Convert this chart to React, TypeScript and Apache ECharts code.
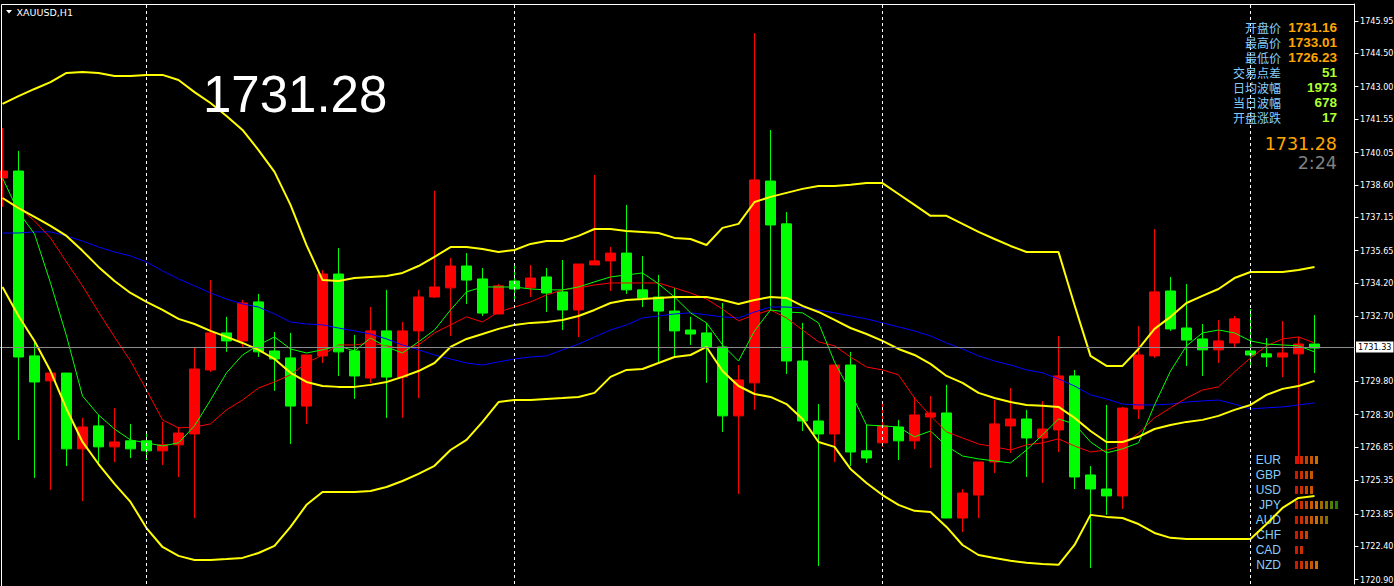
import React, { useEffect, useRef } from "react";
import * as echarts from "echarts";

// ---- data (XAUUSD, H1) ----
// [open, close, low, high]
const candles: number[][] = [
  [1738.91, 1739.22, 1737.61, 1741.15],
  [1739.22, 1730.88, 1727.16, 1740.12],
  [1730.93, 1729.76, 1725.46, 1731.6],
  [1729.81, 1730.16, 1724.92, 1730.16],
  [1730.16, 1726.76, 1725.99, 1730.16],
  [1726.76, 1727.74, 1724.42, 1728.15],
  [1727.79, 1726.85, 1726.13, 1728.28],
  [1726.85, 1727.07, 1726.17, 1728.59],
  [1727.12, 1726.76, 1726.35, 1727.88],
  [1727.12, 1726.67, 1726.26, 1727.56],
  [1726.67, 1726.94, 1726.04, 1727.97],
  [1726.94, 1727.47, 1725.5, 1727.74],
  [1727.43, 1730.34, 1723.66, 1731.29],
  [1730.3, 1731.96, 1730.21, 1734.33],
  [1731.96, 1731.6, 1731.11, 1732.68],
  [1731.6, 1733.3, 1731.33, 1733.44],
  [1733.35, 1731.11, 1730.88, 1733.71],
  [1731.15, 1730.79, 1729.36, 1732.0],
  [1730.84, 1728.68, 1726.98, 1731.96],
  [1728.68, 1730.97, 1727.88, 1730.97],
  [1730.93, 1734.6, 1730.61, 1734.78],
  [1734.6, 1731.11, 1730.03, 1735.77],
  [1731.15, 1730.03, 1729.0, 1731.87],
  [1729.94, 1732.05, 1729.72, 1733.12],
  [1732.05, 1729.98, 1728.15, 1733.89],
  [1729.98, 1732.05, 1728.15, 1732.45],
  [1732.05, 1733.57, 1729.04, 1733.89],
  [1733.57, 1734.02, 1733.53, 1738.33],
  [1733.98, 1734.96, 1731.82, 1735.32],
  [1734.96, 1734.33, 1733.26, 1735.54],
  [1734.38, 1732.85, 1732.72, 1734.87],
  [1732.81, 1734.07, 1732.81, 1734.15],
  [1734.29, 1733.93, 1733.35, 1734.96],
  [1733.98, 1734.42, 1733.57, 1735.01],
  [1734.47, 1733.75, 1732.9, 1734.87],
  [1733.8, 1732.99, 1732.09, 1735.23],
  [1732.99, 1735.05, 1731.78, 1735.05],
  [1735.01, 1735.19, 1735.01, 1739.04],
  [1735.19, 1735.54, 1733.84, 1735.81],
  [1735.54, 1733.89, 1733.71, 1737.7],
  [1733.89, 1733.53, 1733.12, 1735.41],
  [1733.57, 1732.94, 1730.61, 1734.56],
  [1732.94, 1732.05, 1730.88, 1733.98],
  [1732.09, 1731.91, 1731.42, 1732.68],
  [1731.96, 1731.33, 1729.72, 1732.41],
  [1731.33, 1728.24, 1727.52, 1733.3],
  [1728.24, 1729.85, 1724.74, 1730.52],
  [1729.72, 1738.82, 1728.51, 1745.41],
  [1738.77, 1736.8, 1732.94, 1741.06],
  [1736.85, 1730.7, 1730.12, 1737.38],
  [1730.7, 1728.01, 1727.56, 1732.41],
  [1728.01, 1727.43, 1721.51, 1728.77],
  [1727.43, 1730.52, 1726.17, 1730.52],
  [1730.52, 1726.62, 1725.99, 1731.11],
  [1726.67, 1726.35, 1726.13, 1727.83],
  [1727.03, 1727.79, 1726.85, 1728.91],
  [1727.74, 1727.12, 1726.26, 1728.06],
  [1727.12, 1728.28, 1726.76, 1729.09],
  [1728.19, 1728.37, 1725.9, 1729.13],
  [1728.37, 1723.66, 1723.66, 1729.63],
  [1723.66, 1724.78, 1723.03, 1724.96],
  [1724.69, 1726.17, 1723.66, 1726.17],
  [1726.17, 1727.88, 1725.68, 1728.95],
  [1727.79, 1728.1, 1726.58, 1729.49],
  [1728.1, 1727.25, 1725.5, 1728.51],
  [1727.25, 1727.65, 1725.23, 1728.91],
  [1727.61, 1730.03, 1726.62, 1731.82],
  [1730.03, 1725.5, 1724.96, 1730.3],
  [1725.59, 1724.96, 1721.42, 1725.99],
  [1724.96, 1724.65, 1723.8, 1728.73],
  [1724.65, 1728.59, 1724.07, 1728.64],
  [1728.55, 1730.97, 1728.1, 1732.27],
  [1730.93, 1733.8, 1730.84, 1736.62],
  [1733.84, 1732.14, 1732.05, 1734.47],
  [1732.18, 1731.64, 1730.48, 1734.15],
  [1731.69, 1731.2, 1730.03, 1732.36],
  [1731.2, 1731.6, 1730.61, 1732.54],
  [1731.51, 1732.59, 1731.33, 1732.72],
  [1731.15, 1730.97, 1730.48, 1733.03],
  [1731.02, 1730.88, 1730.43, 1731.73],
  [1730.88, 1731.06, 1729.98, 1732.5],
  [1731.02, 1731.46, 1726.08, 1731.78],
  [1731.46, 1731.28, 1730.16, 1732.76],
];

const upperBand = [
  1742.23, 1742.58, 1742.9, 1743.21, 1743.62, 1743.66, 1743.62, 1743.48, 1743.48, 1743.53,
  1743.53, 1743.3, 1742.76, 1742.27, 1741.69, 1741.06, 1740.16, 1739.18, 1737.7, 1735.9,
  1734.33, 1734.29, 1734.42, 1734.47, 1734.51, 1734.65, 1734.96, 1735.37, 1735.81, 1735.81,
  1735.72, 1735.59, 1735.68, 1735.95, 1736.08, 1736.08, 1736.31, 1736.62, 1736.62, 1736.53,
  1736.49, 1736.44, 1736.22, 1736.17, 1735.9, 1736.67, 1736.85, 1737.83, 1738.06, 1738.24,
  1738.42, 1738.55, 1738.55, 1738.6, 1738.68, 1738.68, 1738.19, 1737.7, 1737.21, 1737.21,
  1736.85, 1736.49, 1736.17, 1735.86, 1735.59, 1735.59, 1735.59, 1733.21, 1730.93, 1730.48,
  1730.48, 1731.24, 1732.14, 1732.68, 1733.3, 1733.62, 1733.93, 1734.42, 1734.69, 1734.69,
  1734.69, 1734.78, 1734.92,
];

const middleBand = [
  1738.01, 1737.56, 1737.16, 1736.76, 1736.31, 1735.64, 1734.92, 1734.29, 1733.75, 1733.35,
  1732.99, 1732.59, 1732.36, 1732.05, 1731.78, 1731.51, 1731.2, 1730.79, 1730.17, 1729.76,
  1729.58, 1729.54, 1729.54, 1729.63, 1729.76, 1729.99, 1730.25, 1730.61, 1731.33, 1731.69,
  1731.91, 1732.14, 1732.32, 1732.41, 1732.45, 1732.54, 1732.72, 1732.99, 1733.3, 1733.44,
  1733.48, 1733.53, 1733.57, 1733.57, 1733.57, 1733.44, 1733.26, 1733.44, 1733.57, 1733.53,
  1733.17, 1732.9, 1732.54, 1732.18, 1731.91, 1731.6, 1731.24, 1730.97, 1730.57, 1730.03,
  1729.72, 1729.27, 1729.04, 1728.86, 1728.73, 1728.69, 1728.64, 1728.15, 1727.56, 1727.07,
  1727.07, 1727.3, 1727.65, 1727.83, 1727.97, 1728.06, 1728.24, 1728.51, 1728.73, 1729.18,
  1729.45, 1729.58, 1729.81,
];

const lowerBand = [
  1734.02, 1732.72, 1731.6, 1730.25, 1728.55, 1727.07, 1726.08, 1725.19, 1724.38, 1723.21,
  1722.36, 1721.96, 1721.78, 1721.78, 1721.82, 1721.87, 1722.09, 1722.41, 1723.26, 1724.25,
  1724.83, 1724.83, 1724.83, 1724.87, 1725.05, 1725.32, 1725.64, 1726.0, 1726.71, 1727.16,
  1727.97, 1728.86, 1728.95, 1728.95, 1729.0, 1729.04, 1729.09, 1729.27, 1729.99, 1730.3,
  1730.34, 1730.61, 1730.88, 1730.97, 1731.33, 1730.25, 1729.58, 1729.22, 1729.09, 1728.77,
  1728.1, 1727.07, 1726.85, 1725.86, 1725.23, 1724.69, 1724.25, 1723.98, 1723.93, 1723.26,
  1722.45, 1722.0, 1721.87, 1721.74, 1721.65, 1721.6, 1721.56, 1722.45, 1723.8, 1723.71,
  1723.66, 1723.39, 1722.99, 1722.77, 1722.72, 1722.72, 1722.72, 1722.72, 1722.72, 1723.39,
  1724.11, 1724.56, 1724.65,
];

const maSlow = [
  1736.44, 1736.44, 1736.49, 1736.49, 1736.31, 1736.08, 1735.81, 1735.59, 1735.41, 1735.14,
  1734.74, 1734.38, 1734.07, 1733.75, 1733.48, 1733.26, 1733.12, 1732.81, 1732.45, 1732.36,
  1732.32, 1732.18, 1732.05, 1731.91, 1731.69, 1731.42, 1731.2, 1730.97, 1730.79, 1730.61,
  1730.52, 1730.66, 1730.79, 1730.88, 1730.93, 1731.2, 1731.46, 1731.78, 1732.09, 1732.32,
  1732.63, 1732.72, 1732.81, 1732.86, 1732.77, 1732.68, 1732.63, 1732.9, 1733.12, 1733.12,
  1733.08, 1732.99, 1732.86, 1732.72, 1732.59, 1732.41, 1732.23, 1732.05, 1731.82, 1731.51,
  1731.24, 1730.93, 1730.7, 1730.52, 1730.3, 1730.17, 1729.9, 1729.58, 1729.18, 1729.0,
  1728.77, 1728.73, 1728.73, 1728.77, 1728.86, 1728.91, 1728.95, 1728.77, 1728.55, 1728.6,
  1728.64, 1728.73, 1728.82,
];

const maMid = [
  1738.01, 1737.61, 1736.98, 1736.22, 1735.14, 1734.07, 1732.9, 1731.78, 1730.7, 1729.4,
  1728.06, 1727.7, 1727.74, 1727.88, 1728.51, 1728.95, 1729.49, 1729.76, 1730.08, 1730.61,
  1730.97, 1731.42, 1731.42, 1731.51, 1731.38, 1731.24, 1731.42, 1731.96, 1732.32, 1732.68,
  1732.45, 1732.9, 1733.12, 1733.35, 1733.66, 1733.89, 1733.98, 1734.11, 1734.2, 1734.2,
  1734.2, 1734.2, 1733.98, 1733.75, 1733.48, 1733.03, 1732.5, 1732.77, 1732.99, 1732.63,
  1732.09, 1731.56, 1731.38, 1730.88, 1730.43, 1730.3, 1730.08, 1729.04, 1728.24, 1727.52,
  1727.25, 1726.98, 1726.85, 1726.71, 1726.94, 1727.03, 1727.21, 1726.89, 1726.62, 1726.71,
  1726.89, 1727.47, 1728.15, 1728.6, 1729.04, 1729.4, 1729.54, 1730.21, 1730.84, 1731.38,
  1731.69, 1731.78, 1731.51,
];

const maFast = [
  1738.91, 1737.38, 1736.4, 1734.2, 1731.82, 1729.13, 1728.28, 1727.65, 1727.16, 1727.03,
  1726.89, 1727.03, 1727.79, 1728.95, 1730.17, 1730.97, 1731.42, 1731.78, 1731.24, 1731.06,
  1731.2, 1731.38, 1731.15, 1731.73, 1731.33, 1731.06, 1731.56, 1732.09, 1732.99, 1733.8,
  1734.02, 1734.02, 1734.02, 1733.93, 1733.89, 1733.89, 1734.02, 1734.25, 1734.47, 1734.56,
  1734.65, 1734.16, 1733.57, 1732.86, 1732.41, 1731.42, 1730.7, 1732.05, 1732.99, 1732.9,
  1732.86, 1732.41, 1730.66, 1729.31, 1727.83, 1727.79, 1727.74, 1727.3, 1727.56, 1726.89,
  1726.44, 1726.31, 1726.22, 1726.13, 1726.71, 1727.39, 1728.1, 1727.88, 1727.07, 1726.58,
  1726.76, 1727.03, 1728.73, 1730.25, 1731.38, 1731.96, 1732.09, 1731.96, 1731.6, 1731.46,
  1731.42, 1731.38, 1731.11,
];

const priceTicks = [
  1745.95, 1744.5, 1743.0, 1741.55, 1740.05, 1738.6, 1737.15, 1735.65, 1734.2, 1732.7,
  1729.8, 1728.3, 1726.85, 1725.35, 1723.85, 1722.4, 1720.9,
];
const bidPrice = 1731.33;
const daySeparators = [9, 32, 55, 78];
const totalSlots = 85; // 83 bars + right shift

const infoLabels = ["开盘价", "最高价", "最低价", "交易点差", "日均波幅", "当日波幅", "开盘涨跌"];
const infoValues = ["1731.16", "1733.01", "1726.23", "51", "1973", "678", "17"];
const lastPrice = "1731.28";
const barTimer = "2:24";

const currencies = ["EUR", "GBP", "USD", "JPY", "AUD", "CHF", "CAD", "NZD"];
const strengths = [5, 4, 4, 9, 7, 3, 2, 5];
const strengthColors = ["#ff2200", "#ff3a00", "#ff5200", "#ff6a00", "#ff8c00", "#c88400", "#a09000", "#6e9e00", "#32a000"];

const Y_MIN = 1720.7;
const Y_MAX = 1746.71;

export default function App() {
  const ref = useRef<HTMLDivElement>(null);
  useEffect(() => {
    const chart = echarts.init(ref.current!, null, { renderer: "svg" });
    const slotNames = Array.from({ length: totalSlots }, (_, i) => "h" + i);
    const cellNames = strengthColors.map((_, i) => "c" + i);
    const cells: any[] = [];
    strengths.forEach((n, ci) => {
      for (let k = 0; k < n; k++) cells.push({ value: [k, ci], itemStyle: { color: strengthColors[k] } });
    });
    const axisFont = "'DejaVu Sans Condensed', 'Liberation Sans', sans-serif";
    const lineSeries = (data: number[], color: string, width: number, extra: any = {}) => ({
      type: "line",
      data,
      showSymbol: false,
      symbol: "none",
      silent: true,
      lineStyle: { color, width },
      xAxisIndex: 0,
      yAxisIndex: 0,
      ...extra,
    });
    const graphic: any[] = [
      { type: "line", shape: { x1: 1.5, y1: 4.5, x2: 1354.5, y2: 4.5 }, style: { stroke: "#ffffff", lineWidth: 1 }, z: 100 },
      { type: "line", shape: { x1: 1.5, y1: 4.5, x2: 1.5, y2: 586 }, style: { stroke: "#ffffff", lineWidth: 1 }, z: 100 },
      { type: "polygon", shape: { points: [[6, 10], [12, 10], [9, 13.5]] }, style: { fill: "#ffffff" }, z: 100 },
      {
        type: "text", x: 16.5, y: 12, z: 100,
        style: { text: "XAUUSD,H1", fill: "#ffffff", font: "9.5px 'DejaVu Sans'", textAlign: "left", textVerticalAlign: "middle", align: "left", verticalAlign: "middle" },
      },
      {
        type: "text", x: 203, y: 94, z: 100,
        style: { text: lastPrice, fill: "#ffffff", font: "51px 'Liberation Sans'", textAlign: "left", textVerticalAlign: "middle", align: "left", verticalAlign: "middle" },
      },
      {
        type: "text", x: 1337, y: 143.5, z: 100,
        style: { text: lastPrice, fill: "#ffa500", font: "17.5px 'DejaVu Sans'", textAlign: "right", textVerticalAlign: "middle", align: "right", verticalAlign: "middle" },
      },
      {
        type: "text", x: 1337, y: 162.5, z: 100,
        style: { text: barTimer, fill: "#808080", font: "17.5px 'DejaVu Sans'", textAlign: "right", textVerticalAlign: "middle", align: "right", verticalAlign: "middle" },
      },
    ];
    infoLabels.forEach((t, k) => {
      const y = 27 + 15.1 * k;
      graphic.push({
        type: "text", x: 1281, y, z: 100,
        style: { text: t, fill: "#87cefa", font: "12px 'Noto Sans CJK SC'", textAlign: "right", textVerticalAlign: "middle", align: "right", verticalAlign: "middle" },
      });
      graphic.push({
        type: "text", x: 1337, y, z: 100,
        style: { text: infoValues[k], fill: k < 3 ? "#ffa500" : "#adff2f", font: "bold 13.5px 'Liberation Sans'", textAlign: "right", textVerticalAlign: "middle", align: "right", verticalAlign: "middle" },
      });
    });

    chart.setOption({
      animation: false,
      backgroundColor: "#000000",
      grid: [
        { left: -5.5, right: 39.5, top: 4, bottom: 2, show: false, containLabel: false, outerBoundsMode: "none" },
        { left: 1294, top: 452.5, width: 45, height: 120, show: false, containLabel: false, outerBoundsMode: "none" },
      ],
      xAxis: [
        { type: "category", data: slotNames, show: false, gridIndex: 0, boundaryGap: true },
        { type: "category", data: cellNames, show: false, gridIndex: 1, boundaryGap: true },
      ],
      yAxis: [
        {
          type: "value", gridIndex: 0, position: "right", min: Y_MIN, max: Y_MAX,
          axisLine: { show: true, lineStyle: { color: "#ffffff", width: 1 } },
          axisTick: { show: true, length: 4, inside: false, lineStyle: { color: "#ffffff" }, customValues: priceTicks },
          axisLabel: {
            show: true, customValues: priceTicks, margin: 5.5, color: "#ffffff", fontSize: 9, fontFamily: axisFont,
            formatter: (v: number) => v.toFixed(2),
          },
          splitLine: { show: false },
        },
        {
          type: "category", gridIndex: 1, data: currencies, inverse: true,
          axisLine: { show: false }, axisTick: { show: false }, splitLine: { show: false },
          axisLabel: { interval: 0, color: "#87cefa", fontSize: 12, margin: 13, fontFamily: "'Liberation Sans', sans-serif" },
        },
      ],
      series: [
        {
          type: "candlestick",
          data: candles,
          xAxisIndex: 0,
          yAxisIndex: 0,
          barWidth: 10,
          silent: true,
          itemStyle: { color: "#ff0000", color0: "#00ff00", borderColor: "#ff0000", borderColor0: "#00ff00", borderWidth: 1 },
          markLine: {
            silent: true,
            symbol: ["none", "none"],
            label: { show: false },
            lineStyle: { color: "#ffffff", type: [3, 3], width: 1 },
            data: daySeparators.map((i) => ({ xAxis: i })),
          },
        },
        lineSeries(maSlow, "#0000ff", 1, {
          clip: false,
          markLine: {
            silent: true,
            symbol: ["none", "none"],
            lineStyle: { color: "#8c8c8c", type: "solid", width: 1 },
            label: {
              show: true, position: "end", distance: 1.5, formatter: bidPrice.toFixed(2),
              color: "#000000", backgroundColor: "#ffffff", padding: [1, 2, 1, 2],
              fontSize: 9, fontFamily: axisFont,
            },
            data: [{ yAxis: bidPrice }],
          },
        }),
        lineSeries(maMid, "#ff0000", 1),
        lineSeries(maFast, "#00ff00", 1),
        lineSeries(upperBand, "#ffff00", 2),
        lineSeries(middleBand, "#ffff00", 2),
        lineSeries(lowerBand, "#ffff00", 2),
        {
          type: "scatter",
          xAxisIndex: 1,
          yAxisIndex: 1,
          symbol: "rect",
          symbolSize: [3, 8],
          silent: true,
          data: cells,
          z: 5,
        },
      ],
      graphic,
    });
    return () => chart.dispose();
  }, []);
  return (
    <div
      ref={ref}
      style={{ position: "fixed", left: 0, top: 0, width: 1394, height: 586, background: "#000000" }}
    />
  );
}
